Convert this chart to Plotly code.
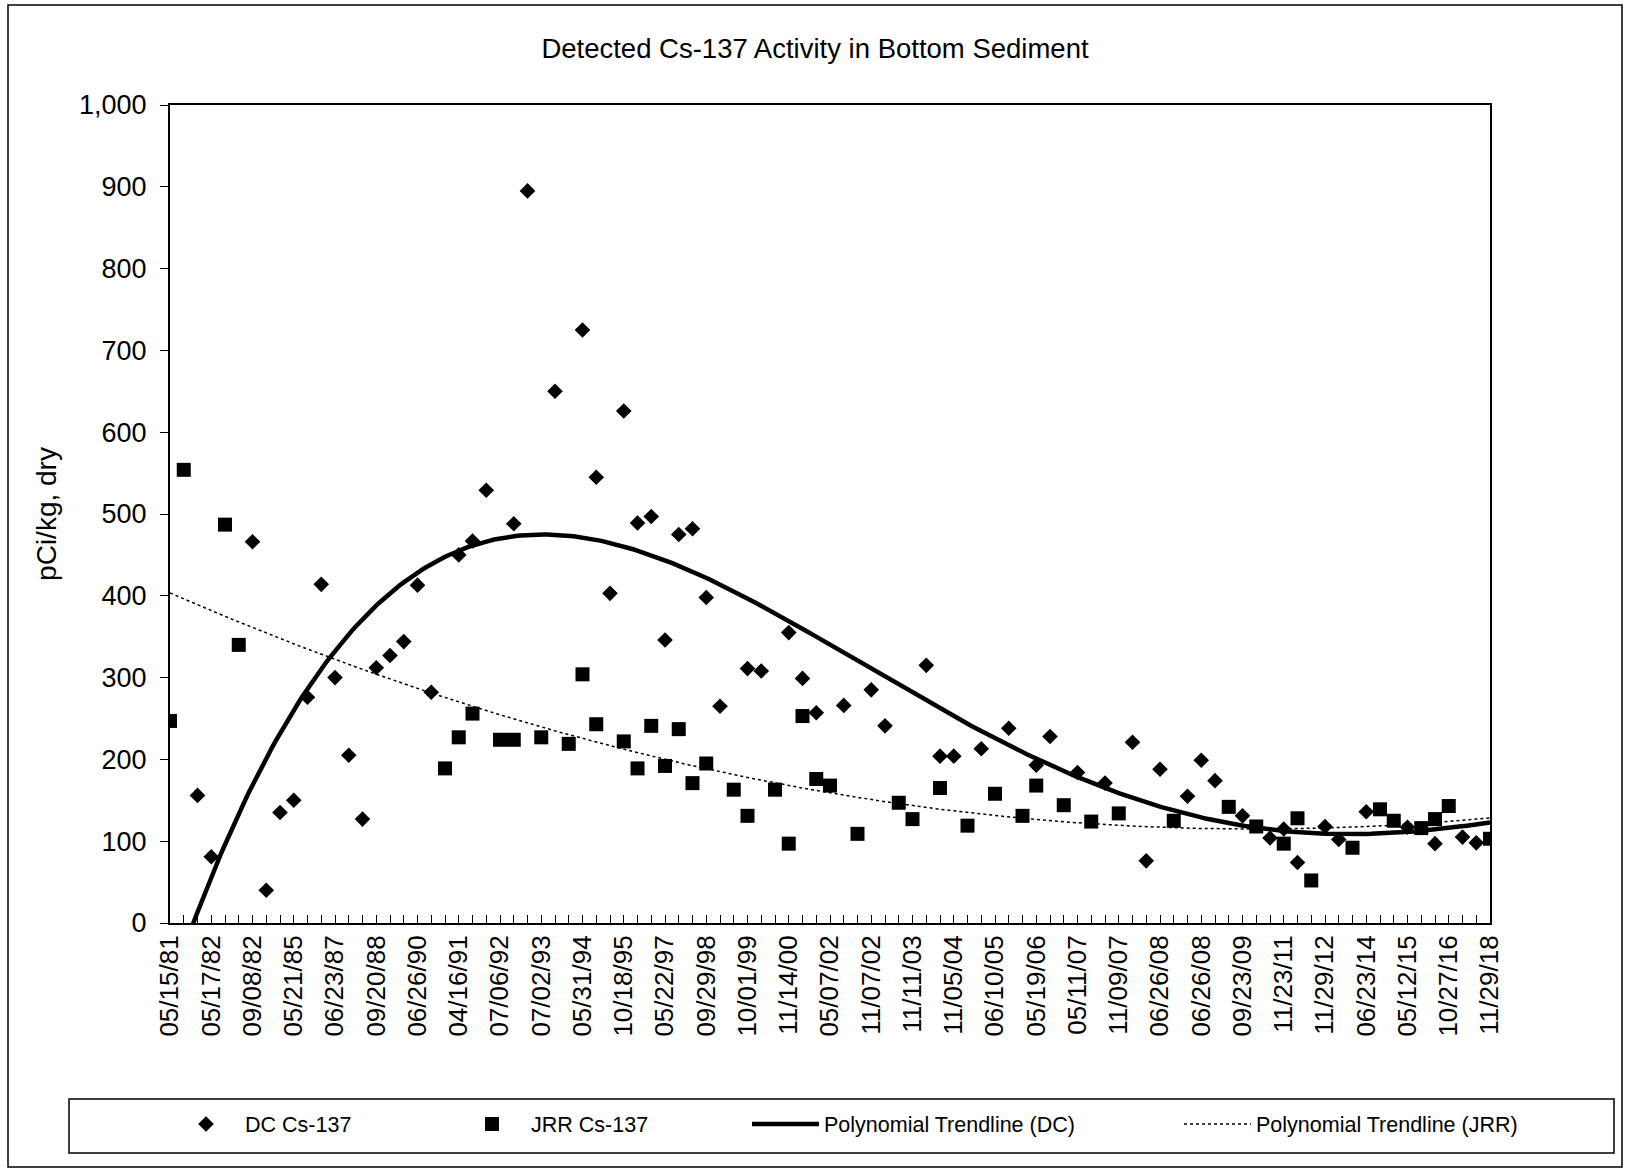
import numpy as np
import plotly.graph_objects as go

# ---------------- data ----------------
tick_labels = ["05/15/81", "05/17/82", "09/08/82", "05/21/85", "06/23/87", "09/20/88",
               "06/26/90", "04/16/91", "07/06/92", "07/02/93", "05/31/94", "10/18/95",
               "05/22/97", "09/29/98", "10/01/99", "11/14/00", "05/07/02", "11/07/02",
               "11/11/03", "11/05/04", "06/10/05", "05/19/06", "05/11/07", "11/09/07",
               "06/26/08", "06/26/08", "09/23/09", "11/23/11", "11/29/12", "06/23/14",
               "05/12/15", "10/27/16", "11/29/18"]

dc_values = [
    None, None, 156, 81, None, None, 466, 40, 135, 150,
    276, 414, 300, 205, 127, 312, 327, 344, 413, 282,
    None, 450, 467, 529, None, 488, 895, None, 650, None,
    725, 545, 403, 626, 489, 497, 346, 475, 482, 398,
    265, None, 311, 308, None, 355, 299, 257, None, 266,
    None, 285, 241, None, None, 315, 204, 204, None, 213,
    None, 238, None, 193, 228, None, 184, None, 171, None,
    221, 76, 188, None, 155, 199, 174, None, 131, None,
    104, 115, 74, None, 118, 102, None, 136, None, None,
    117, None, 97, None, 105, 98, None]

jrr_values = [
    247, 554, None, None, 487, 340, None, None, None, None,
    None, None, None, None, None, None, None, None, None, None,
    189, 227, 256, None, 224, 224, None, 227, None, 219,
    304, 243, None, 222, 189, 241, 192, 237, 171, 195,
    None, 163, 131, None, 163, 97, 253, 176, 168, None,
    109, None, None, 147, 127, None, 165, None, 119, None,
    158, None, 131, 168, None, 144, None, 124, None, 134,
    None, None, None, 125, None, None, None, 142, None, 118,
    None, 97, 128, 52, None, None, 92, None, 139, 125,
    None, 116, 127, 143, None, None, 103]

# polynomial trendline orders (as in the spreadsheet chart)
dc_trend_order = 4
jrr_trend_order = 2

n = len(dc_values)
x_idx = list(range(n))
label_step = 3
tick_pos = x_idx[::label_step]


def poly_trend(values, deg):
    xs = np.array([i for i, v in enumerate(values) if v is not None], float)
    ys = np.array([v for v in values if v is not None], float)
    p = np.polynomial.Polynomial.fit(xs, ys, deg)
    xf = np.linspace(0, n - 1, 400)
    return xf, p(xf)


FONT = "Liberation Sans, Arial, sans-serif"
W, H = 1626, 1173
ML, MR, MT, MB = 170, 136, 105, 250

fig = go.Figure()

fig.add_trace(go.Scatter(x=x_idx, y=dc_values, mode="markers", name="DC Cs-137",
                         marker=dict(symbol="diamond", size=12, color="black"),
                         legend="legend", showlegend=True))
fig.add_trace(go.Scatter(x=x_idx, y=jrr_values, mode="markers", name="JRR Cs-137",
                         marker=dict(symbol="square", size=14, color="black"),
                         legend="legend2", showlegend=True))

xf, yf = poly_trend(dc_values, dc_trend_order)
fig.add_trace(go.Scatter(x=xf, y=yf, mode="lines", name="Polynomial Trendline (DC)",
                         line=dict(color="black", width=4.5), legend="legend3",
                         showlegend=True))
xf, yf = poly_trend(jrr_values, jrr_trend_order)
fig.add_trace(go.Scatter(x=xf, y=yf, mode="lines", name="Polynomial Trendline (JRR)",
                         line=dict(color="black", width=1.5, dash="dot"), legend="legend4",
                         showlegend=True))


def px_x(p):
    return (p - ML) / (W - ML - MR)


def px_y(p):
    return (H - MB - p) / (H - MT - MB)


leg_common = dict(orientation="h", xref="container", yref="container",
                  yanchor="middle", y=1 - 1124 / H, bgcolor="rgba(0,0,0,0)",
                  borderwidth=0, font=dict(family=FONT, size=21.5, color="black"))

fig.update_layout(
    width=W, height=H,
    showlegend=True,
    margin=dict(l=ML, r=MR, t=MT, b=MB),
    paper_bgcolor="white", plot_bgcolor="white",
    title=dict(text="Detected Cs-137 Activity in Bottom Sediment", x=815 / W, y=1 - 48 / H,
               xanchor="center", yanchor="middle",
               font=dict(family=FONT, size=27.5, color="black")),
    font=dict(family=FONT, color="black"),
    legend=dict(**leg_common, x=167 / W, xanchor="left", itemwidth=68, visible=True),
    legend2=dict(**leg_common, x=453 / W, xanchor="left", itemwidth=68, visible=True),
    legend3=dict(**leg_common, x=747 / W, xanchor="left", itemwidth=67, visible=True),
    legend4=dict(**leg_common, x=1179 / W, xanchor="left", itemwidth=67, visible=True),
    xaxis=dict(range=[0, n - 1], tickmode="array", tickvals=tick_pos, ticktext=tick_labels,
               tickangle=-90, ticks="inside", ticklen=8, tickcolor="black", tickwidth=1,
               showline=True, linecolor="black", linewidth=2, mirror=True,
               showgrid=False, zeroline=False,
               tickfont=dict(family=FONT, size=26, color="black"),
               minor=dict(tickmode="linear", tick0=0, dtick=1, ticks="inside", ticklen=8,
                          tickcolor="black", tickwidth=1, showgrid=False)),
    yaxis=dict(range=[0, 1000], tickmode="linear", tick0=0, dtick=100, tickformat=",d",
               ticks="outside", ticklen=8, tickcolor="black", ticklabelstandoff=8,
               showline=True, linecolor="black", linewidth=2, mirror=True,
               showgrid=False, zeroline=False,
               tickfont=dict(family=FONT, size=27, color="black"),
               title=dict(text="pCi/kg, dry", standoff=14,
                          font=dict(family=FONT, size=28, color="black"))),
    shapes=[
        dict(type="rect", xref="paper", yref="paper",
             x0=px_x(69), x1=px_x(1614), y0=px_y(1153), y1=px_y(1099),
             line=dict(color="black", width=1.5), fillcolor="rgba(0,0,0,0)"),
        dict(type="rect", xref="paper", yref="paper",
             x0=px_x(8), x1=px_x(1622), y0=px_y(1167), y1=px_y(5),
             line=dict(color="black", width=1.5), fillcolor="rgba(0,0,0,0)"),
    ],
)

fig.write_html("out.html", config={"displayModeBar": False},
               post_script="document.body.style.margin='0';document.body.style.overflow='hidden';")
